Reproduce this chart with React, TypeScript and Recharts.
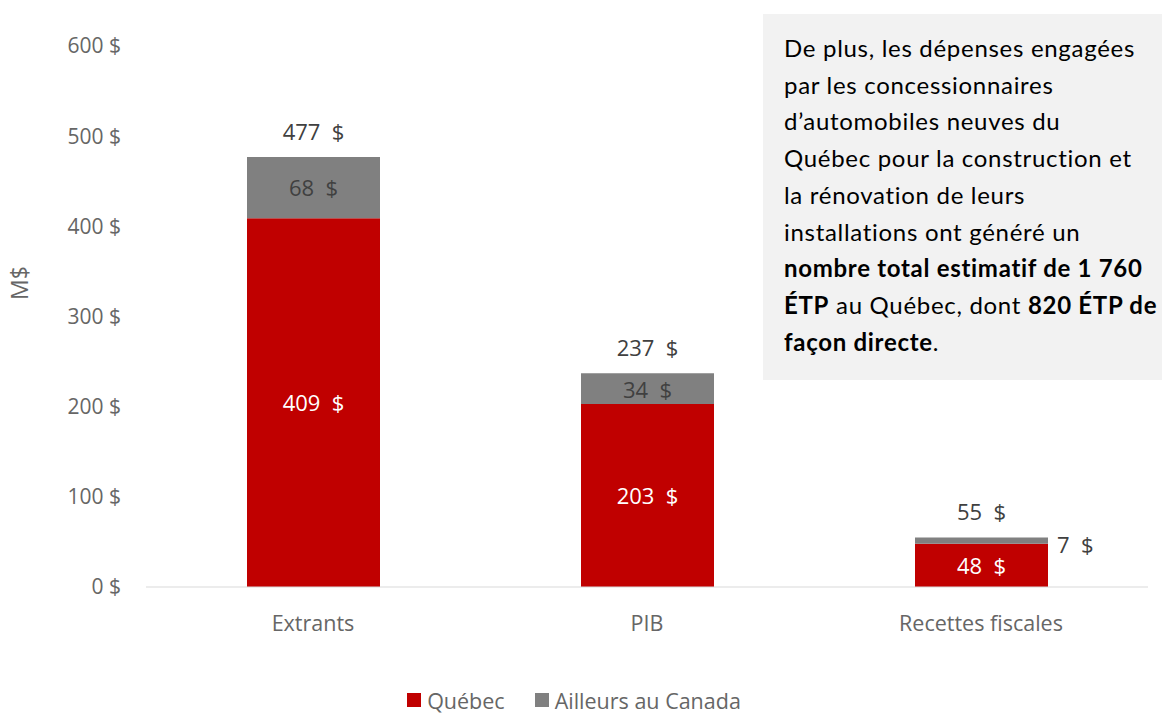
import React from 'react';
import { BarChart, Bar, XAxis, YAxis, Legend, LabelList, Label } from 'recharts';

// Retombées économiques (M$)
const categories = ['Extrants', 'PIB', 'Recettes fiscales'];
const quebec = [409, 203, 48];
const ailleurs = [68, 34, 7];
const totals = [477, 237, 55];
const yTicks = [0, 100, 200, 300, 400, 500, 600];

const series = [
  { key: 'quebec', name: 'Québec', color: '#C00000' },
  { key: 'ailleurs', name: 'Ailleurs au Canada', color: '#808080' },
];

const data = categories.map((name, i) => ({
  name,
  quebec: quebec[i],
  ailleurs: ailleurs[i],
  total: totals[i],
}));

const FONT = "'Open Sans', sans-serif";
const fmt = (v: any) => `${v}\u00a0\u00a0$`;

// small segments get their label pushed to the right of the bar
const AilleursLabel = (props: any) => {
  const { x, y, width, height, value } = props;
  const small = height < 20;
  return (
    <text x={small ? x + width + 9 : x + width / 2} y={small ? y + height / 2 + 7 : y + height / 2 + 3}
      fill="#404040" fontSize={22} fontFamily={FONT}
      textAnchor={small ? 'start' : 'middle'} dominantBaseline="middle">
      {fmt(value)}
    </text>
  );
};

const QuebecLabel = (props: any) => {
  const { x, y, width, height, value } = props;
  return (
    <text x={x + width / 2} y={y + height / 2 + 3} fill="#fff" fontSize={22}
      fontFamily={FONT} textAnchor="middle" dominantBaseline="middle">
      {fmt(value)}
    </text>
  );
};

const LegendContent = () => (
  <div style={{ display: 'flex', justifyContent: 'center', alignItems: 'center', height: 32,
    fontFamily: FONT, fontSize: 21.5, color: '#666', paddingLeft: 30 }}>
    {series.map((s) => (
      <span key={s.key} style={{ display: 'flex', alignItems: 'center', marginRight: 30 }}>
        <span style={{ display: 'inline-block', width: 14, height: 14, background: s.color, marginRight: 6 }} />
        {s.name}
      </span>
    ))}
  </div>
);

export default function App() {
  return (
    <div style={{ position: 'absolute', left: 0, top: 0, width: 1164, height: 713, background: '#fff' }}>
      <BarChart width={1164} height={713} data={data} barSize={133}
        margin={{ top: 46, right: 16, left: 0, bottom: 0 }}>
        <YAxis domain={[0, 600]} ticks={yTicks} width={146} axisLine={false} tickLine={false}
          tickMargin={19} tickFormatter={(v) => `${v} $`}
          tick={{ fill: '#666', fontSize: 21, fontFamily: FONT }}>
          <Label content={() => (
            <text x={22} y={283} transform="rotate(-90 22 283)" textAnchor="middle"
              dominantBaseline="middle" fill="#666" fontSize={23}
              fontFamily={FONT}>M$</text>
          )} />
        </YAxis>
        <XAxis dataKey="name" height={94} tickLine={false} axisLine={{ stroke: '#d9d9d9' }}
          tickMargin={23} tick={{ fill: '#666', fontSize: 21.5, fontFamily: FONT }} />
        <Legend verticalAlign="bottom" content={<LegendContent />} wrapperStyle={{ bottom: -3 }} />
        {series.map((s) => (
          <Bar key={s.key} dataKey={s.key} name={s.name} stackId="a" fill={s.color} isAnimationActive={false}>
            {s.key === 'quebec' ? <LabelList dataKey="quebec" content={<QuebecLabel />} /> : null}
            {s.key === 'ailleurs' ? <LabelList dataKey="ailleurs" content={<AilleursLabel />} /> : null}
            {s.key === 'ailleurs' ? (
              <LabelList dataKey="total" position="top" offset={17} formatter={fmt}
                style={{ fill: '#404040', fontSize: 22, fontFamily: FONT }} />
            ) : null}
          </Bar>
        ))}
      </BarChart>
      <div style={{
        position: 'absolute', left: 763, top: 14, width: 399, height: 366, background: '#f2f2f2',
        boxSizing: 'border-box', padding: '16px 0 0 21px', fontFamily: "Lato, 'Open Sans', sans-serif",
        fontSize: 24, letterSpacing: 0.7, lineHeight: '36.7px', color: '#000', whiteSpace: 'nowrap',
      }}>
        De plus, les dépenses engagées<br />
        par les concessionnaires<br />
        d’automobiles neuves du<br />
        Québec pour la construction et<br />
        la rénovation de leurs<br />
        installations ont généré un<br />
        <b>nombre total estimatif de 1 760</b><br />
        <b>ÉTP</b> au Québec, dont <b>820 ÉTP de</b><br />
        <b>façon directe</b>.
      </div>
    </div>
  );
}
